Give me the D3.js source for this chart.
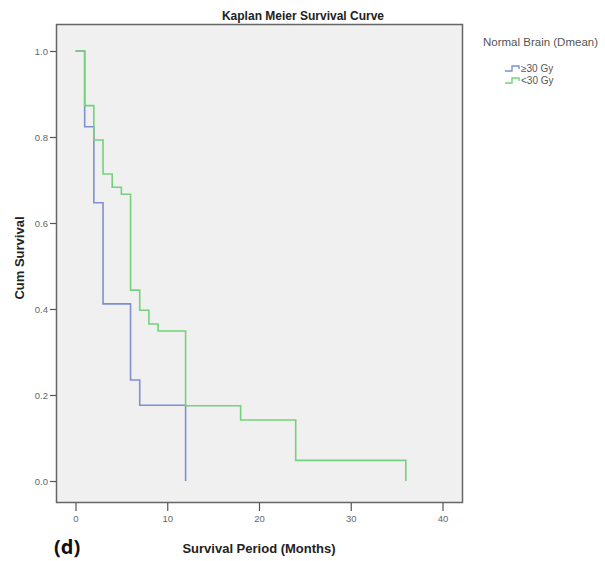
<!doctype html>
<html>
<head>
<script src="https://cdnjs.cloudflare.com/ajax/libs/d3/7.8.5/d3.min.js"></script>
<style>
  body { margin:0; background:#fff; }
  text { font-family: "Liberation Sans", Arial, sans-serif; }
  .frame { fill:#f0f0f0; stroke:#666; stroke-width:1.5; }
  .axis path { display:none; }
  .axis line { stroke:#555; stroke-width:1.2; }
  .axis text { fill:#666; font-size:9.5px; }
  path.km { fill:none; stroke-width:1.6; }
</style>
</head>
<body>
<svg id="chart" width="605" height="561"></svg>
<script>
// data
var groups = ["\u226530 Gy", "<30 Gy"];
var colors = ["#7f8fd2", "#74d27a"];
var highTimes = [0, 1, 2, 3, 6, 7, 12];
var highSurv  = [1.0, 0.824, 0.647, 0.412, 0.235, 0.176, 0.0];
var lowTimes = [0, 1, 2, 3, 4, 5, 6, 7, 8, 9, 12, 18, 24, 36];
var lowSurv  = [1.0, 0.873, 0.793, 0.714, 0.683, 0.667, 0.444, 0.397, 0.365, 0.349, 0.175, 0.142, 0.048, 0.0];
var xTicks = [0, 10, 20, 30, 40];
var yTicks = [0.0, 0.2, 0.4, 0.6, 0.8, 1.0];

var svg = d3.select("#chart");
var x = d3.scaleLinear().domain([0, 40]).range([75.5, 442.5]);
var y = d3.scaleLinear().domain([0, 1]).range([481, 51]);

// plot frame
svg.append("rect").attr("class", "frame")
   .attr("x", 56.5).attr("y", 24.5).attr("width", 406).attr("height", 478);

svg.append("g").attr("class", "axis")
   .attr("transform", "translate(0,503)")
   .call(d3.axisBottom(x).tickValues(xTicks).tickSize(8).tickPadding(4).tickFormat(d3.format("d")));
svg.append("g").attr("class", "axis")
   .attr("transform", "translate(56,0)")
   .call(d3.axisLeft(y).tickValues(yTicks).tickSize(6).tickPadding(2).tickFormat(d3.format(".1f")));

// step curves: horizontal then drop at each event time
function stepPts(t, s) {
  var pts = [];
  for (var i = 0; i < t.length; i++) {
    if (i > 0) pts.push([t[i], s[i - 1]]);
    pts.push([t[i], s[i]]);
  }
  return pts;
}
var line = d3.line().x(d => x(d[0])).y(d => y(d[1]));
svg.append("path").attr("class", "km").attr("stroke", colors[0]).attr("d", line(stepPts(highTimes, highSurv)));
svg.append("path").attr("class", "km").attr("stroke", colors[1]).attr("d", line(stepPts(lowTimes, lowSurv)));

// titles
svg.append("text").attr("x", 303).attr("y", 20).attr("text-anchor", "middle")
   .style("font-weight", "bold").style("font-size", "12px").attr("fill", "#222")
   .text("Kaplan Meier Survival Curve");
svg.append("text").attr("x", 259).attr("y", 553).attr("text-anchor", "middle")
   .style("font-weight", "bold").style("font-size", "13px").attr("fill", "#222")
   .text("Survival Period (Months)");
svg.append("text").attr("transform", "translate(24,258) rotate(-90)").attr("text-anchor", "middle")
   .style("font-weight", "bold").style("font-size", "13px").attr("fill", "#222")
   .text("Cum Survival");
svg.append("text").attr("x", 54).attr("y", 554)
   .style("font-weight", "bold").style("font-size", "20px").attr("fill", "#111")
   .style("font-family", "'Open Sans', sans-serif")
   .text("(d)");

// legend
var leg = svg.append("g");
leg.append("text").attr("x", 483).attr("y", 46).style("font-size", "10px").attr("fill", "#555")
   .attr("textLength", 115).attr("lengthAdjust", "spacingAndGlyphs")
   .text("Normal Brain (Dmean)");
groups.forEach(function(g, i) {
  var yy = 68 + i * 12;
  leg.append("path").attr("fill", "none").attr("stroke", colors[i]).attr("stroke-width", 1.4)
     .attr("d", "M505," + (yy + 3) + "H512V" + (yy - 2) + "H519V" + (yy + 1));
  leg.append("text").attr("x", 521).attr("y", yy + 4).style("font-size", "10px").attr("fill", "#555")
     .text(g);
});
</script>
</body>
</html>
